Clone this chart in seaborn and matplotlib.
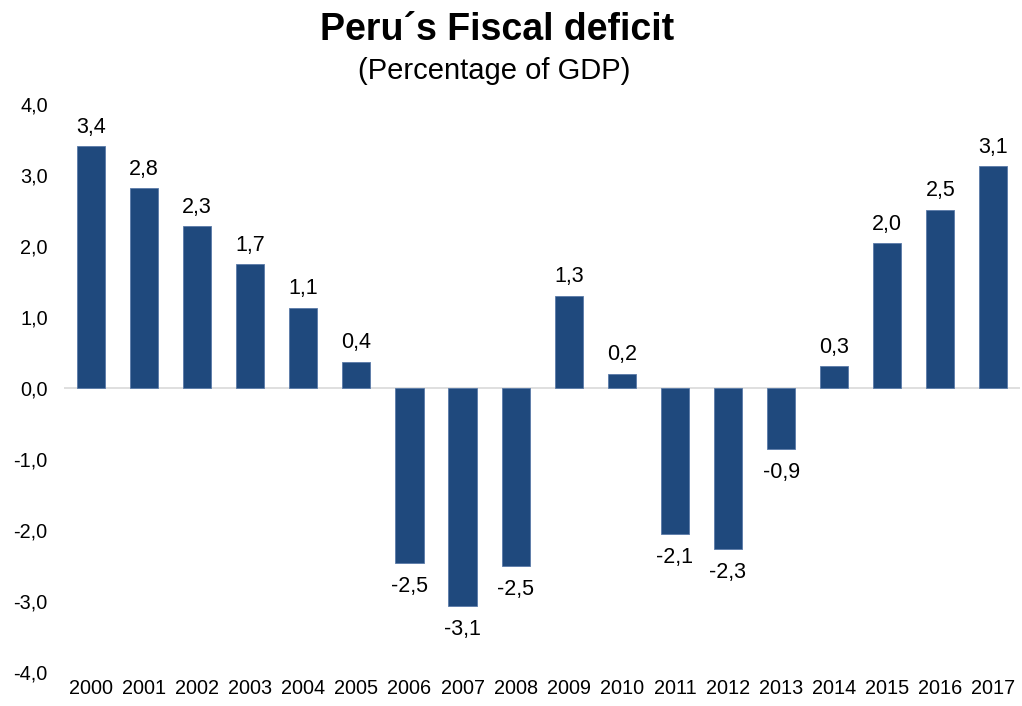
import matplotlib
matplotlib.use("Agg")
import matplotlib.pyplot as plt
from matplotlib.ticker import FuncFormatter, MultipleLocator
import seaborn as sns
import pandas as pd

years = [str(y) for y in range(2000, 2018)]
deficit = [3.40, 2.81, 2.28, 1.74, 1.13, 0.37, -2.47, -3.07, -2.51,
           1.30, 0.20, -2.06, -2.27, -0.86, 0.31, 2.04, 2.51, 3.12]

title = "Peru\u00b4s Fiscal deficit"
subtitle = "(Percentage of GDP)"

sns.set_theme(style="white")
plt.rcParams["font.family"] = ["Liberation Sans", "DejaVu Sans"]
plt.rcParams["text.color"] = "black"
plt.rcParams["xtick.color"] = "black"
plt.rcParams["ytick.color"] = "black"

df = pd.DataFrame({"year": years, "deficit": deficit})

fig = plt.figure(figsize=(10.22, 7.06), dpi=100)
ax = fig.add_axes([0.063, 0.048, 0.935, 0.805])

sns.barplot(data=df, x="year", y="deficit", color="#1F497D", width=0.53,
            saturation=1, edgecolor="#5A7AA8", linewidth=0.6, ax=ax)

def comma(v):
    return f"{v:.1f}".replace(".", ",")

for i, v in enumerate(deficit):
    if v >= 0:
        ax.annotate(comma(v), (i, v), xytext=(0, 6), textcoords="offset points",
                    ha="center", va="bottom", fontsize=15.5, color="black")
    else:
        ax.annotate(comma(v), (i, v), xytext=(0, -9), textcoords="offset points",
                    ha="center", va="top", fontsize=15.5, color="black")

ax.axhline(0, color="#D9D9D9", linewidth=1.2, zorder=0.5)
ax.set_ylim(-4, 4)
ax.set_xlim(-0.5, len(years) - 0.5)
ax.yaxis.set_major_locator(MultipleLocator(1))
ax.yaxis.set_major_formatter(FuncFormatter(lambda v, p: comma(v)))
ax.set_xlabel("")
ax.set_ylabel("")
ax.tick_params(axis="y", labelsize=14.3, pad=12, length=0)
ax.tick_params(axis="x", labelsize=14.3, pad=5, length=0)
for s in ax.spines.values():
    s.set_visible(False)

fig.text(0.486, 0.958, title, ha="center", va="center", fontsize=27,
         fontweight="bold")
fig.text(0.484, 0.900, subtitle, ha="center", va="center", fontsize=21)

fig.savefig("out.png", dpi=100)
